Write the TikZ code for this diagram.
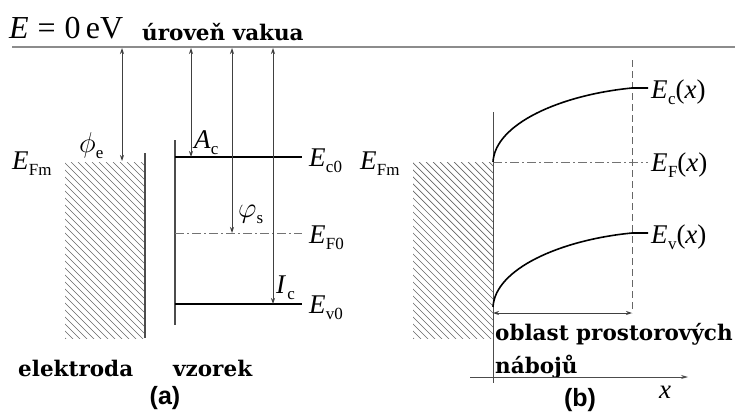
\documentclass[tikz,border=0pt]{standalone}
\usepackage{fontspec}
\setmainfont{Liberation Serif}
\newfontfamily\bsf{Liberation Sans}
\newfontfamily\dvs{DejaVu Serif}
\usetikzlibrary{arrows.meta}
\tikzset{
 lvl/.style={line width=2pt, black},
 fermi/.style={black!55, line width=1pt, dash pattern=on 9pt off 3pt on 2pt off 3pt},
 wall/.style={black!70, line width=1.2pt},
 marrow/.style={draw=black!75, line width=0.8pt, {Stealth[length=6pt,width=4pt]}-{Stealth[length=6pt,width=4pt]}},
 lab/.style={font=\fontsize{27}{27}\selectfont, inner sep=0pt, anchor=base west},
 word/.style={font=\dvs\bfseries\fontsize{21.5}{21.5}\selectfont, inner sep=0pt, anchor=base west},
 panel/.style={font=\bsf\bfseries\fontsize{25}{25}\selectfont, inner sep=0pt},
 hatchline/.style={black!60, line width=0.7pt},
}
\newcommand\sub[1]{\raisebox{-0.25em}{\fontsize{17}{17}\selectfont #1}}
\newcommand\El[1]{\textit{E}\kern0.3pt\sub{#1}}
\newcommand\hatchbox[4]{%
 \begin{scope}
 \clip (#1,#2) rectangle (#3,#4);
 \foreach \k in {-190,-183,...,90} \draw[hatchline] (#1+\k,#2) -- ++(300,300);
 \end{scope}}
\begin{document}
\begin{tikzpicture}[x=1pt,y=-1pt]
\useasboundingbox (0,0) rectangle (735,412);
% vacuum level
\coordinate (vacL) at (12,47);
\coordinate (vacR) at (735,47);
\draw[black!45, line width=2.2pt] (vacL) -- (vacR);
\node[lab, font=\fontsize{32}{32}\selectfont] (E0) at (9,38) {\textit{E}\;=\;0\,eV};
\node[word] (vak) at (142,41) {úroveň vakua};

% ---------- panel (a) ----------
\hatchbox{65}{162}{145}{338}
\coordinate (elT) at (145,153); \coordinate (elB) at (145,338);
\draw[wall] (elT) -- (elB);
\coordinate (saT) at (175,140); \coordinate (saB) at (175,325);
\draw[wall] (saT) -- (saB);
\coordinate (ec0L) at (175,157); \coordinate (ec0R) at (302,157);
\coordinate (ef0L) at (175,233); \coordinate (ef0R) at (302,233);
\coordinate (ev0L) at (175,304); \coordinate (ev0R) at (302,304);
\draw[lvl] (ec0L) -- (ec0R);
\draw[fermi] (ef0L) -- (ef0R);
\draw[lvl] (ev0L) -- (ev0R);
\node[lab] (Ec0) at (309,166) {\El{c0}};
\node[lab] (EF0) at (309,243) {\El{F0}};
\node[lab] (Ev0) at (309,313) {\El{v0}};
\node[lab] (EFmA) at (12,169) {\El{Fm}};

\coordinate (pe1) at (122,48); \coordinate (pe2) at (122,161);
\coordinate (ac1) at (191,48); \coordinate (ac2) at (191,157);
\coordinate (ps1) at (232,48); \coordinate (ps2) at (232,233);
\coordinate (ic1) at (273,48); \coordinate (ic2) at (273,304);
\draw[marrow] (pe1) -- (pe2);
\draw[marrow] (ac1) -- (ac2);
\draw[marrow] (ps1) -- (ps2);
\draw[marrow] (ic1) -- (ic2);
\node[lab] (phie) at (79,152) {\scalebox{1.15}{$\phi$}\sub{e}};
\node[lab] (Ac) at (194,148) {\textit{A}\sub{c}};
\node[lab] (phis) at (238,217) {\scalebox{1.15}{$\varphi$}\sub{s}};
\node[lab] (Ic) at (276,293) {\textit{I}\kern1pt\sub{c}};

\node[word] (elek) at (18,376) {elektroda};
\node[word] (vzor) at (173,376) {vzorek};
\node[panel] (pa) at (165,398) {(a)};

% ---------- panel (b) ----------
\hatchbox{413}{162}{493}{338}
\coordinate (ifT) at (493,112); \coordinate (ifB) at (493,383);
\draw[black!70, line width=1pt] (ifT) -- (ifB);
\node[lab] (EFmB) at (360,169) {\El{Fm}};
\coordinate (efL) at (493,162); \coordinate (efR) at (648,162);
\draw[fermi] (efL) -- (efR);
\coordinate (dT) at (632,60); \coordinate (dB) at (632,313);
\draw[black!60, line width=1pt, dash pattern=on 7pt off 4pt] (dT) -- (dB);
\coordinate (ecS) at (493,162); \coordinate (ecM) at (632,88); \coordinate (ecE) at (648,88);
\draw[line width=1.6pt, black] (ecS) .. controls (495,124) and (560,95) .. (ecM) -- (ecE);
\coordinate (evS) at (493,307); \coordinate (evM) at (632,233); \coordinate (evE) at (648,233);
\draw[line width=1.6pt, black] (evS) .. controls (495,269) and (560,240) .. (evM) -- (evE);
\node[lab] (Ecx) at (651,98) {\El{c}(\textit{x})};
\node[lab] (EFx) at (651,171) {\El{F}(\textit{x})};
\node[lab] (Evx) at (651,243) {\El{v}(\textit{x})};
\coordinate (wL) at (493,313); \coordinate (wR) at (632,313);
\draw[marrow] (wL) -- (wR);
\node[word] (obl) at (495,340) {oblast prostorových};
\node[word] (nab) at (495,373) {nábojů};
\coordinate (axL) at (470,377); \coordinate (axR) at (688,377);
\draw[black!70, line width=0.8pt, -{Stealth[length=7pt,width=4pt]}] (axL) -- (axR);
\node[lab, anchor=center] (xl) at (665,392) {\textit{x}};
\node[panel] (pb) at (580,400) {(b)};
\end{tikzpicture}
\end{document}
